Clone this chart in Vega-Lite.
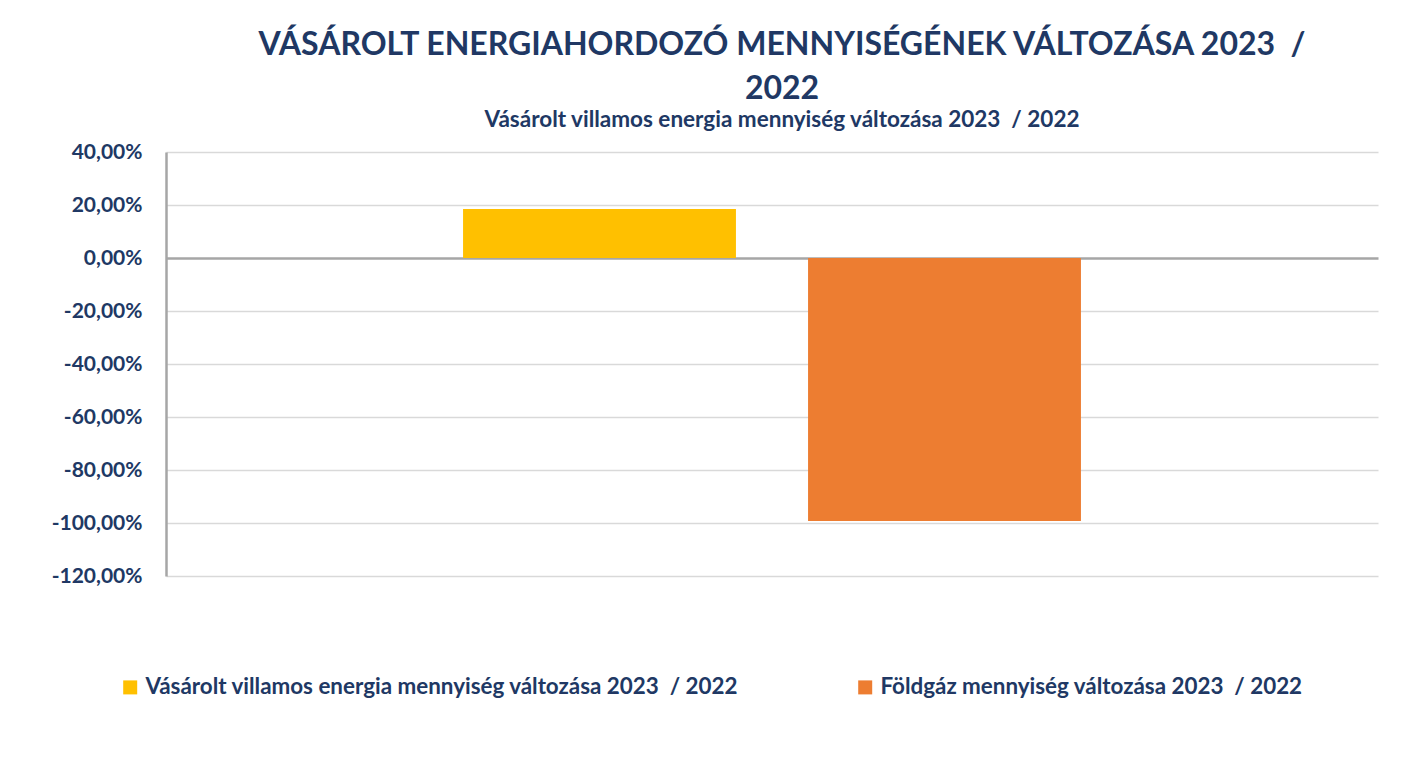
{
  "$schema": "https://vega.github.io/schema/vega-lite/v6.json",
  "autosize": {"type": "none"},
  "width": 1212,
  "height": 424,
  "padding": {"left": 166, "top": 152, "right": 30, "bottom": 198},
  "background": "white",
  "title": {
    "text": ["VÁSÁROLT ENERGIAHORDOZÓ MENNYISÉGÉNEK VÁLTOZÁSA 2023\u00a0\u00a0/", "2022"],
    "subtitle": "Vásárolt villamos energia mennyiség változása 2023\u00a0\u00a0/ 2022",
    "anchor": "middle",
    "frame": "group",
    "dx": 10,
    "font": "Lato",
    "fontSize": 32,
    "fontWeight": "bold",
    "color": "#203864",
    "lineHeight": 44,
    "subtitleFont": "Lato",
    "subtitleFontSize": 22.5,
    "subtitleFontWeight": "bold",
    "subtitleColor": "#203864",
    "subtitlePadding": 3,
    "offset": 9
  },
  "data": {
    "values": [
      {"series": "Vásárolt villamos energia mennyiség változása 2023\u00a0\u00a0/ 2022", "change": 18.5},
      {"series": "Földgáz mennyiség változása 2023\u00a0\u00a0/ 2022", "change": -99.2}
    ]
  },
  "mark": {"type": "bar"},
  "encoding": {
    "x": {
      "field": "series",
      "type": "nominal",
      "sort": null,
      "scale": {"paddingInner": 0.209, "paddingOuter": 0.861},
      "axis": null
    },
    "y": {
      "field": "change",
      "type": "quantitative",
      "scale": {"domain": [-120, 40], "nice": false, "zero": false},
      "axis": {
        "title": null,
        "values": [-120, -100, -80, -60, -40, -20, 0, 20, 40],
        "labelExpr": "replace(replace(format(datum.value, '.2f'), '.', ','), '\u2212', '-') + '%'",
        "labelFont": "Lato",
        "labelFontSize": 21,
        "labelFontWeight": "bold",
        "labelColor": "#203864",
        "labelPadding": 24,
        "ticks": false,
        "domainColor": "#A6A6A6",
        "domainWidth": 2.5,
        "grid": true,
        "gridColor": {"condition": {"test": "datum.value === 0", "value": "#A6A6A6"}, "value": "#D9D9D9"},
        "gridWidth": {"condition": {"test": "datum.value === 0", "value": 2.5}, "value": 1.5}
      }
    },
    "color": {
      "field": "series",
      "type": "nominal",
      "scale": {
        "domain": ["Vásárolt villamos energia mennyiség változása 2023\u00a0\u00a0/ 2022", "Földgáz mennyiség változása 2023\u00a0\u00a0/ 2022"],
        "range": ["#FFC000", "#ED7D31"]
      },
      "legend": {
        "title": null,
        "orient": "none",
        "legendX": -47,
        "legendY": 524,
        "direction": "horizontal",
        "columns": 2,
        "columnPadding": 115,
        "symbolType": "square",
        "symbolSize": 196,
        "symbolStrokeWidth": 0,
        "labelFont": "Lato",
        "labelFontSize": 22.4,
        "labelFontWeight": "bold",
        "labelColor": "#203864",
        "labelOffset": 4,
        "labelLimit": 800
      }
    }
  },
  "config": {"view": {"stroke": null}}
}
